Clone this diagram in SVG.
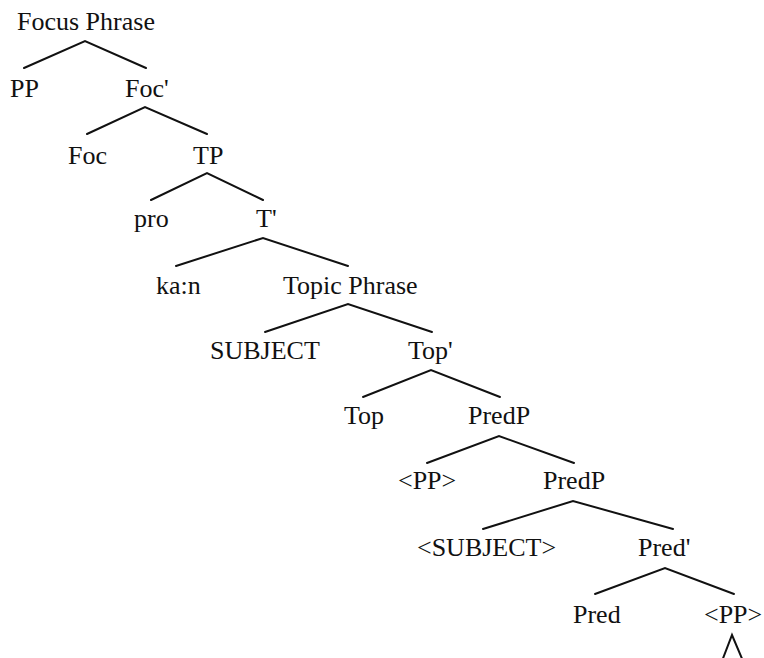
<svg xmlns="http://www.w3.org/2000/svg" width="764" height="658" viewBox="0 0 764 658">
  <style>
    .lbl { font-family: "Liberation Serif", "Times New Roman", serif; font-size: 26px; fill: #111; }
    .edge { stroke: #111; stroke-width: 2; fill: none; stroke-linecap: round; }
  </style>
  <rect width="764" height="658" fill="#fff"/>

  <g id="connectors">
    <path class="edge" d="M24 68 L85 41 L146 68"/>
    <path class="edge" d="M87 134 L145 107 L207 134"/>
    <path class="edge" d="M151 200 L207 173 L263 200"/>
    <path class="edge" d="M176 266 L263 238 L348 266"/>
    <path class="edge" d="M265 332 L348 304 L432 332"/>
    <path class="edge" d="M363 397 L431 370 L500 397"/>
    <path class="edge" d="M427 463 L499 436 L574 463"/>
    <path class="edge" d="M483 529 L573 501 L673 529"/>
    <path class="edge" d="M595 594 L665 568 L734 594"/>
    <path class="edge" d="M722 661 L732 635 L743 661"/>
  </g>

  <g id="focus-phrase"><text class="lbl" x="17" y="30">Focus Phrase</text></g>
  <g id="pp"><text class="lbl" x="10" y="97">PP</text></g>
  <g id="foc-bar"><text class="lbl" x="125" y="97">Foc'</text></g>
  <g id="foc"><text class="lbl" x="68" y="164">Foc</text></g>
  <g id="tp"><text class="lbl" x="193" y="164">TP</text></g>
  <g id="pro"><text class="lbl" x="134" y="227">pro</text></g>
  <g id="t-bar"><text class="lbl" x="256" y="227">T'</text></g>
  <g id="kan"><text class="lbl" x="156" y="294">ka:n</text></g>
  <g id="topic-phrase"><text class="lbl" x="283" y="294">Topic Phrase</text></g>
  <g id="subject"><text class="lbl" x="210" y="359">SUBJECT</text></g>
  <g id="top-bar"><text class="lbl" x="408" y="359">Top'</text></g>
  <g id="top"><text class="lbl" x="344" y="424">Top</text></g>
  <g id="predp-1"><text class="lbl" x="468" y="424">PredP</text></g>
  <g id="pp-trace-1"><text class="lbl" x="398" y="489">&lt;PP&gt;</text></g>
  <g id="predp-2"><text class="lbl" x="543" y="489">PredP</text></g>
  <g id="subject-trace"><text class="lbl" x="417" y="556">&lt;SUBJECT&gt;</text></g>
  <g id="pred-bar"><text class="lbl" x="638" y="556">Pred'</text></g>
  <g id="pred"><text class="lbl" x="573" y="623">Pred</text></g>
  <g id="pp-trace-2"><text class="lbl" x="704" y="623">&lt;PP&gt;</text></g>
</svg>
